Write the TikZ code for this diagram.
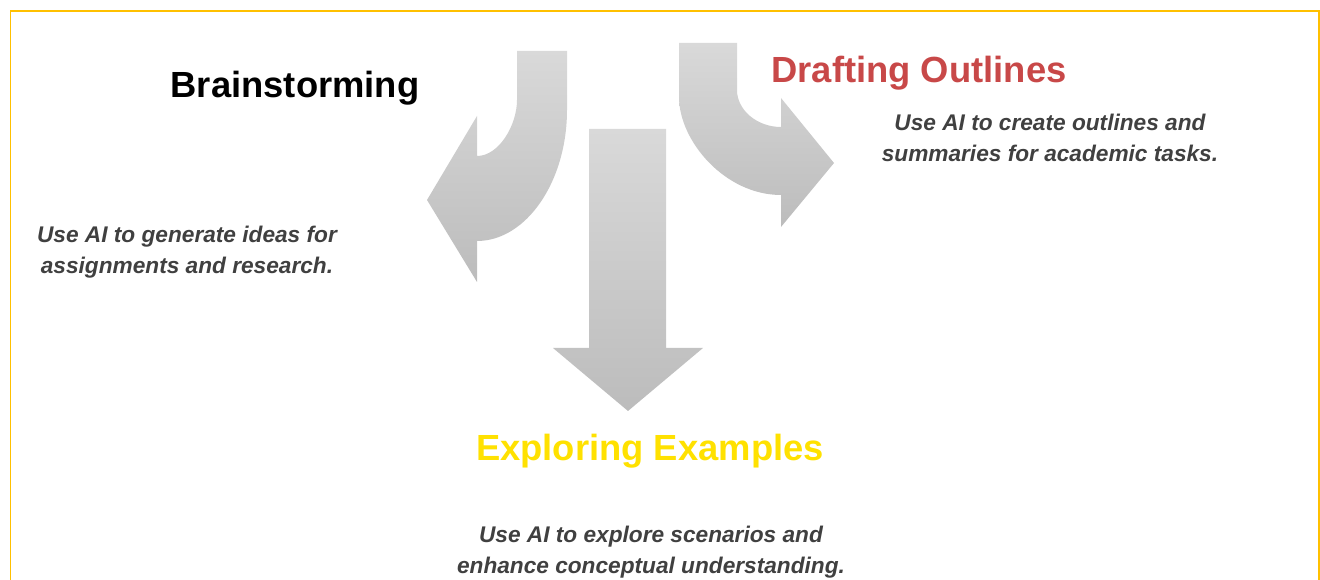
\documentclass[tikz,border=0pt]{standalone}
\usepackage{fontspec}
\setmainfont{Liberation Sans}
\usetikzlibrary{calc}
\definecolor{bordo}{HTML}{FFC000}
\definecolor{rosso}{HTML}{C84848}
\definecolor{giallo}{HTML}{FFE100}
\definecolor{testo}{HTML}{404040}
\definecolor{grigiosu}{HTML}{D9D9D9}
\definecolor{grigiogiu}{HTML}{BCBCBC}
\tikzset{
titolo/.style={anchor=base,inner sep=0pt,font=\fontsize{20.7}{24}\selectfont\bfseries},
descr/.style={align=center,inner sep=0pt,text=testo,font=\fontsize{12.9}{17.6}\selectfont\bfseries\itshape},
freccia/.style={top color=grigiosu,bottom color=grigiogiu,draw=none},
cornice/.style={draw=bordo,line width=1.1pt}}

\begin{document}
\begin{tikzpicture}[x=0.02cm,y=-0.02cm]

\useasboundingbox (0,0) rectangle (1320,580);
\draw[cornice] (10.5,580) -- (10.5,11) -- (1319,11) -- (1319,580);

% curved arrow to the left
\path[freccia] (517,51) -- (567,51) -- (567,110)
  .. controls (567,182) and (526,241) .. (477,241)
  -- (477,282) -- (427,200) -- (477,116) -- (477,156)
  .. controls (499,156) and (517,125) .. (517,100) -- cycle;
% curved arrow to the right
\path[freccia] (679,43) -- (737,43) -- (737,90)
  .. controls (737,110) and (757,127) .. (781,127)
  -- (781,98) -- (834,163) -- (781,227) -- (781,195)
  .. controls (725,195) and (679,141) .. (679,97) -- cycle;
% straight arrow down
\path[freccia] (589,129) -- (666,129) -- (666,348) -- (703,348)
  -- (628,411) -- (553,348) -- (589,348) -- cycle;

\node[titolo] (brain) at (295,98) {Brainstorming};
\node[titolo,text=rosso] (draft) at (919,83) {Drafting Outlines};
\node[titolo,text=giallo] (explore) at (650,461) {Exploring Examples};

\node[descr] (brain text) at (187,252) {Use AI to generate ideas for\\assignments and research.};
\node[descr] (draft text) at (1050,138) {Use AI to create outlines and\\summaries for academic tasks.};
\node[descr] (explore text) at (651,552) {Use AI to explore scenarios and\\enhance conceptual understanding.};

\end{tikzpicture}
\end{document}
